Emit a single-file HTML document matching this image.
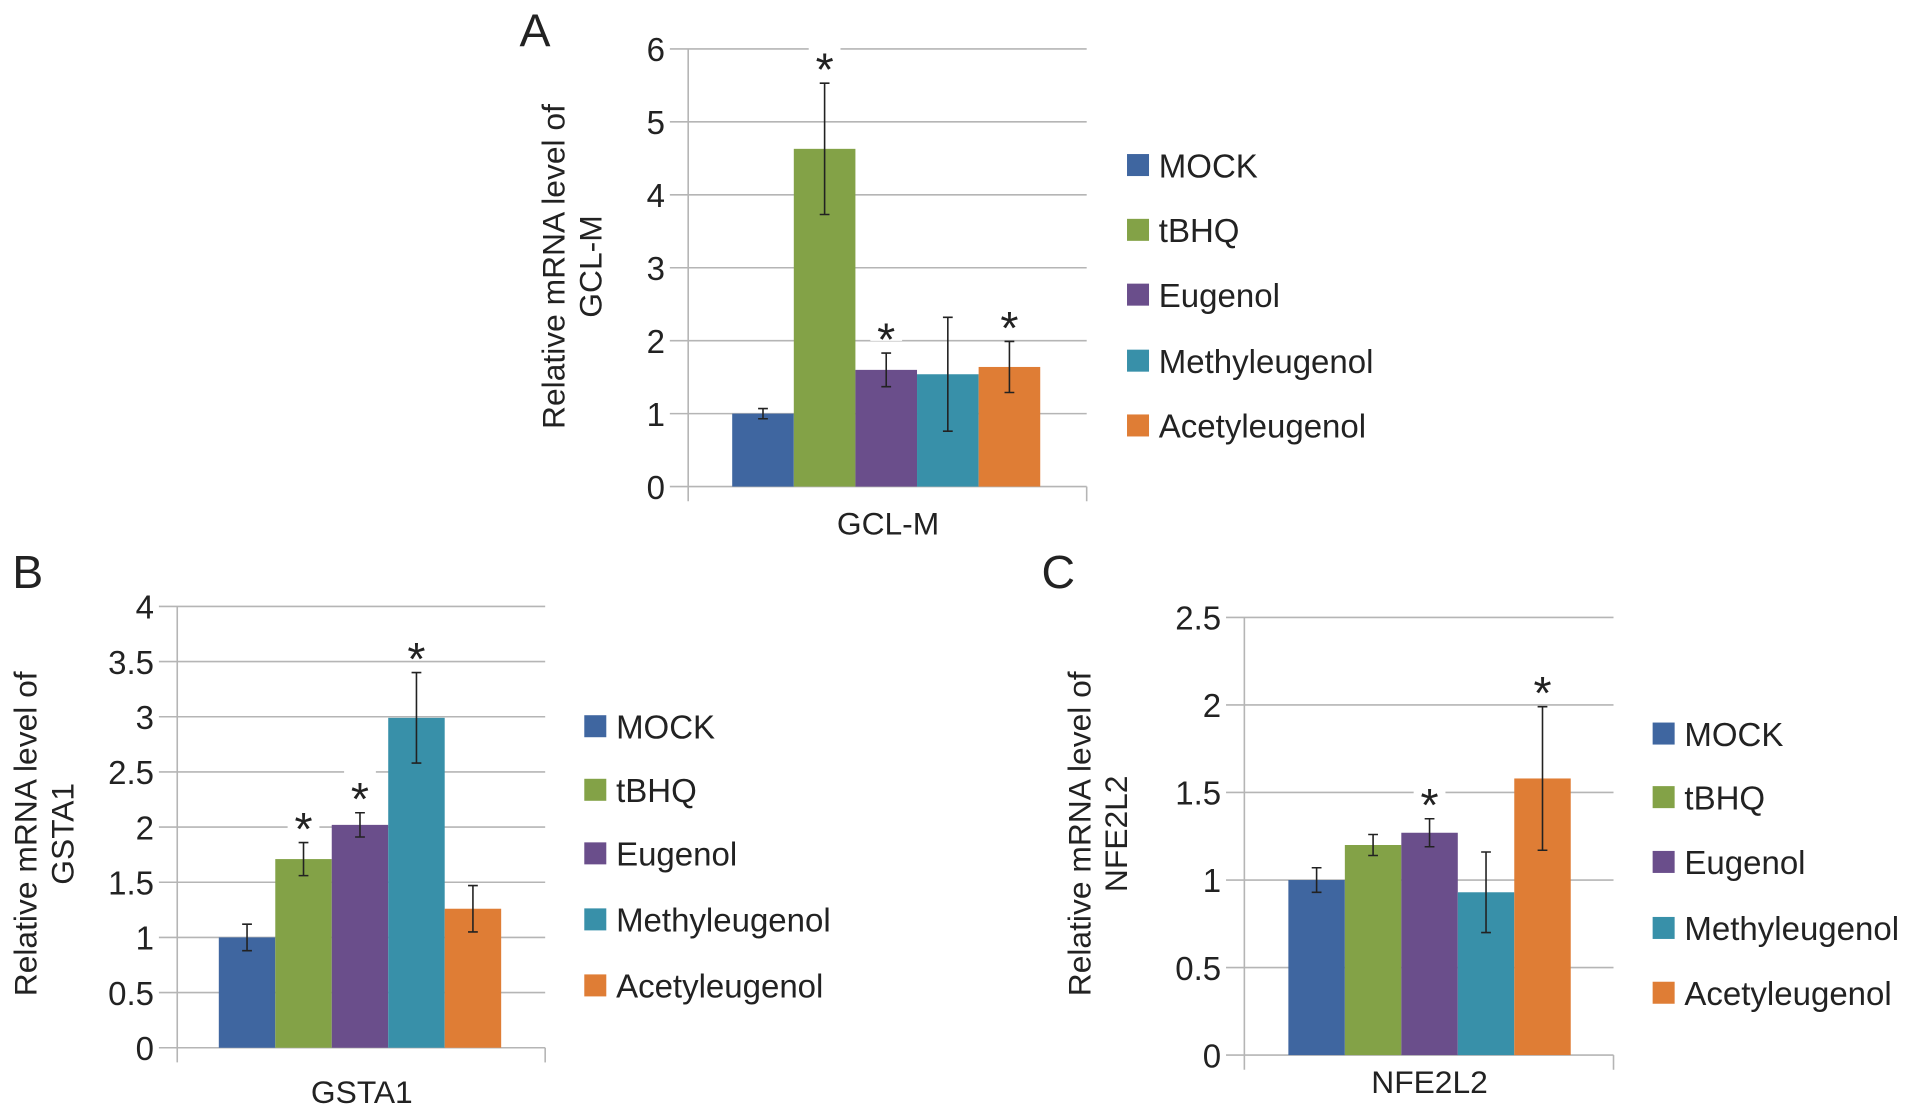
<!DOCTYPE html>
<html><head><meta charset="utf-8"><style>
html,body{margin:0;padding:0;background:#fff;}
svg{display:block;}
text{font-family:"Liberation Sans",Arial,sans-serif;fill:#222;}
</style></head><body>
<svg id="fig" width="1913" height="1115" viewBox="0 0 1565 912" preserveAspectRatio="none" xmlns="http://www.w3.org/2000/svg"></svg>
<script>
const groups = ["MOCK","tBHQ","Eugenol","Methyleugenol","Acetyleugenol"];
const colors = ["#3f66a0","#83a247","#6a4e8b","#3890a9","#df7d35"];
const valuesA = [1.0, 4.63, 1.6, 1.54, 1.64];
const errorsA = [0.07, 0.9, 0.23, 0.78, 0.35];
const starsA = [false, true, true, false, true];
const ticksA = ["0","1","2","3","4","5","6"];
const valuesB = [1.0, 1.71, 2.02, 2.99, 1.26];
const errorsB = [0.12, 0.15, 0.11, 0.41, 0.21];
const starsB = [false, true, true, true, false];
const ticksB = ["0","0.5","1","1.5","2","2.5","3","3.5","4"];
const valuesC = [1.0, 1.2, 1.27, 0.93, 1.58];
const errorsC = [0.07, 0.06, 0.08, 0.23, 0.41];
const starsC = [false, false, true, false, true];
const ticksC = ["0","0.5","1","1.5","2","2.5"];

const NS="http://www.w3.org/2000/svg";
const svg=document.getElementById('fig');
function mk(tag,attrs,parent){const e=document.createElementNS(NS,tag);for(const k in attrs)e.setAttribute(k,attrs[k]);(parent||svg).appendChild(e);return e;}
function txt(s,attrs,parent){const e=mk('text',attrs,parent);e.textContent=s;return e;}

function panel(cfg){
  const g=mk('g',{});
  
  
  const maxV=parseFloat(cfg.ticks[cfg.ticks.length-1]);
  const y=v=>cfg.y0-(v/maxV)*(cfg.y0-cfg.yTop);
  const bw=(cfg.barR-cfg.barL)/cfg.values.length;
  const x=i=>cfg.barL+i*bw;
  cfg.ticks.forEach(t=>{
    const v=parseFloat(t);
    const l=mk('line',{x1:cfg.gridL,x2:cfg.gridR,y1:y(v),y2:y(v),stroke:'#b5b5b5','stroke-width':1.3},g);
    
    
    const tl=txt(t,{x:cfg.axisX-19,y:y(v)+10,'text-anchor':'end','font-size':27},g);
    
    
  });
  const ax=mk('line',{x1:cfg.axisX,x2:cfg.axisX,y1:cfg.yTop,y2:cfg.y0+12,stroke:'#b5b5b5','stroke-width':1.3},g);
  
  
  mk('line',{x1:cfg.gridR,x2:cfg.gridR,y1:cfg.y0,y2:cfg.y0+12,stroke:'#b5b5b5','stroke-width':1.3},g);
  cfg.values.forEach((v,i)=>{
    const r=mk('rect',{x:x(i),y:y(v),width:bw,height:cfg.y0-y(v),fill:colors[i]},g);
    
    
    const cx=x(i)+bw/2, e=cfg.errors[i];
    const eb=mk('path',{d:`M${cx},${y(v+e)}V${y(v-e)}M${cx-4},${y(v+e)}H${cx+4}M${cx-4},${y(v-e)}H${cx+4}`,stroke:'#222','stroke-width':1.3,fill:'none'},g);
    
    
    if(cfg.stars[i]){
      const sy=y(v+e)-12;
      mk('rect',{x:cx-13,y:sy-24,width:26,height:26,fill:'#fff'},g);
      const s=txt('*',{x:cx,y:sy+14,'text-anchor':'middle','font-size':38},g);
      
      
    }
  });
  const pl=txt(cfg.id,{x:cfg.letterX,y:cfg.letterY,'font-size':38},g);
  
  
  const yt=txt('',{transform:`translate(${cfg.titleX},${cfg.titleY}) rotate(-90)`,'text-anchor':'middle','font-size':26},g);
  
  
  const t1=mk('tspan',{x:0,y:0},yt);t1.textContent='Relative mRNA level of';
  const t2=mk('tspan',{x:0,y:30},yt);t2.textContent=cfg.gene;
  const xl=txt(cfg.gene,{x:(cfg.gridL+cfg.gridR)/2+8,y:cfg.xLabelY,'text-anchor':'middle','font-size':26},g);
  
  
  groups.forEach((n,i)=>{
    const ly=cfg.legendY[i];
    const sq=mk('rect',{x:cfg.legX,y:ly-9,width:18,height:18,fill:colors[i]},g);
    
    
    const lt=txt(n,{x:cfg.legX+26,y:ly+10,'font-size':27},g);
    
    
  });
}
panel({id:'A',gene:'GCL-M',values:valuesA,errors:errorsA,stars:starsA,ticks:ticksA,
  axisX:563,gridL:548,gridR:889,y0:398,yTop:40,barL:599,barR:851,
  letterX:425,letterY:38,titleX:462,titleY:218,xLabelY:437,legX:922,legendY:[135,188,241,295,348]});
panel({id:'B',gene:'GSTA1',values:valuesB,errors:errorsB,stars:starsB,ticks:ticksB,
  axisX:145,gridL:130,gridR:446,y0:857,yTop:496,barL:179,barR:410,
  letterX:10,letterY:481,titleX:30,titleY:682,xLabelY:902,legX:478,legendY:[594,646,698,752,806]});
panel({id:'C',gene:'NFE2L2',values:valuesC,errors:errorsC,stars:starsC,ticks:ticksC,
  axisX:1018,gridL:1003,gridR:1320,y0:863,yTop:505,barL:1054,barR:1285,
  letterX:852,letterY:481,titleX:892,titleY:682,xLabelY:894,legX:1352,legendY:[600,652,705,759,812]});
</script>
</body></html>
